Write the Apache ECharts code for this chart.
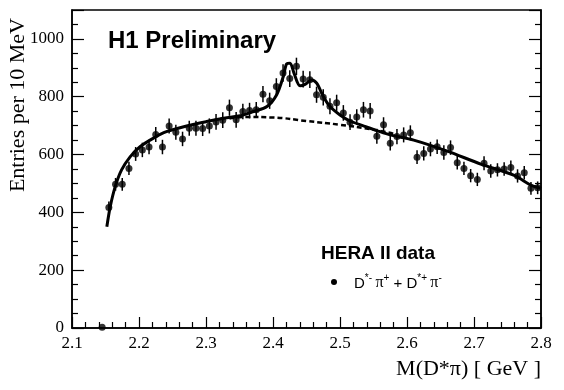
<!DOCTYPE html>
<html><head><meta charset="utf-8">
<script src="https://cdn.jsdelivr.net/npm/echarts@6/dist/echarts.min.js"></script>
<style>html,body{margin:0;padding:0;background:#fff}#c{width:564px;height:390px}</style>
</head><body><div id="c"></div>
<script>
// Bin centres (GeV), entries per 10 MeV, error bars
const massBins = [2.145,2.155,2.165,2.175,2.185,2.195,2.205,2.215,2.225,2.235,2.245,2.255,2.265,2.275,2.285,2.295,2.305,2.315,2.325,2.335,2.345,2.355,2.365,2.375,2.385,2.395,2.405,2.415,2.425,2.435,2.445,2.455,2.465,2.475,2.485,2.495,2.505,2.515,2.525,2.535,2.545,2.555,2.565,2.575,2.585,2.595,2.605,2.615,2.625,2.635,2.645,2.655,2.665,2.675,2.685,2.695,2.705,2.715,2.725,2.735,2.745,2.755,2.765,2.775,2.785,2.795];
const entries = [3,417,497,497,552,602,616,626,669,626,699,677,654,691,691,690,699,713,719,762,720,749,752,755,809,786,835,882,863,905,861,859,807,798,767,779,744,712,730,755,751,663,703,639,662,668,675,591,604,619,627,607,624,572,552,527,514,570,543,547,550,555,526,537,483,485];
const errors = [0,21,22,22,23,24,25,25,26,25,26,26,25,26,26,26,26,27,27,28,27,27,27,27,28,28,29,30,29,30,29,29,28,28,28,28,27,27,27,27,27,26,26,25,26,26,26,24,25,25,25,25,25,24,23,23,23,24,23,23,23,24,23,23,22,22];
// Fit curve (signal + background)
const fitX = [2.152,2.157,2.1645,2.174,2.187,2.2015,2.221,2.241,2.271,2.301,2.331,2.351,2.371,2.391,2.4055,2.4154,2.4204,2.4254,2.4313,2.4403,2.4478,2.4577,2.4652,2.4751,2.4851,2.500,2.515,2.535,2.555,2.575,2.61,2.66,2.71,2.76,2.785,2.8];
const fitY = [350,419,489,547,593,627,656,679,699,714,727,734,749,766,807,870,914,916,882,838,843,858,847,801,766,737,716,699,683,668,650,612,567,528,494,483];
// Background-only curve (dashed)
const bgX = [2.335,2.36,2.40,2.45,2.50,2.55,2.58];
const bgY = [725,730,728,716,703,686,672];
const yTickValues = [0,200,400,600,800,1000];

const chart = echarts.init(document.getElementById('c'));
const serif = '"Liberation Serif", "Times New Roman", serif';
const sans = '"Liberation Sans", Arial, sans-serif';
const pts = massBins.map((m,i)=>[m,entries[i],errors[i]]);
const fit = fitX.map((x,i)=>[x,fitY[i]]);
const bg = bgX.map((x,i)=>[x,bgY[i]]);

chart.setOption({
  animation:false,
  backgroundColor:'#fff',
  textStyle:{fontFamily:serif},
  grid:{left:72,right:23,top:10,bottom:62,show:true,borderColor:'#000',borderWidth:1.5},
  xAxis:[{type:'value',min:2.1,max:2.8,interval:0.1,
    axisLine:{show:true,onZero:false,lineStyle:{color:'#000',width:1.5}},
    axisTick:{show:true,inside:true,length:11,lineStyle:{color:'#000',width:1.2}},
    minorTick:{show:true,splitNumber:5,length:6,lineStyle:{color:'#000',width:1.2}},
    splitLine:{show:false},
    axisLabel:{color:'#000',fontFamily:serif,fontSize:17,margin:7,formatter:v=>v.toFixed(1)}
  }],
  yAxis:[{type:'value',min:0,max:1100,interval:200,
    axisLine:{show:true,lineStyle:{color:'#000',width:1.5}},
    axisTick:{show:true,inside:true,length:12,lineStyle:{color:'#000',width:1.2}},
    minorTick:{show:true,splitNumber:4,length:6,lineStyle:{color:'#000',width:1.2}},
    splitLine:{show:false},
    axisLabel:{color:'#000',fontFamily:serif,fontSize:17,margin:8,showMaxLabel:false,
      formatter:v=>yTickValues.indexOf(v)>=0?String(v):''}
  },{type:'value',min:0,max:1100,interval:200,position:'right',
    axisLine:{show:true,lineStyle:{color:'#000',width:1.5}},
    axisTick:{show:true,inside:true,length:12,lineStyle:{color:'#000',width:1.2}},
    minorTick:{show:true,splitNumber:4,length:6,lineStyle:{color:'#000',width:1.2}},
    splitLine:{show:false},axisLabel:{show:false}
  }],
  series:[
    {type:'line',data:bg,showSymbol:false,smooth:true,lineStyle:{color:'#000',width:2.5,type:[5,3]},z:2},
    {type:'line',data:fit,showSymbol:false,smooth:0.3,lineStyle:{color:'#000',width:3},z:3},
    {type:'custom',data:pts,z:4,renderItem:(params,api)=>{
      const x=api.value(0),y=api.value(1),e=api.value(2);
      if(!e) return null;
      const a=api.coord([x,y+e]),b=api.coord([x,y-e]);
      return {type:'line',shape:{x1:a[0],y1:a[1],x2:b[0],y2:b[1]},style:{stroke:'#000',lineWidth:1.5}};
    }},
    {type:'scatter',data:pts.map(p=>[p[0],p[1]]),symbol:'circle',symbolSize:7,itemStyle:{color:'#000'},z:5}
  ],
  graphic:[
    {type:'text',left:108,top:29,style:{text:'H1 Preliminary',font:'bold 24px "Liberation Sans"',fill:'#000'}},
    {type:'text',left:321,top:244,style:{text:'HERA II data',font:'bold 19px "Liberation Sans"',fill:'#000'}},
    {type:'circle',shape:{cx:334,cy:282,r:3},style:{fill:'#000'}},
    {type:'text',left:354,top:273,style:{
      rich:{
        n:{fontFamily:sans,fontSize:15,fill:'#000',verticalAlign:'bottom',lineHeight:18},
        p:{fontFamily:serif,fontSize:16,fill:'#000',verticalAlign:'bottom',lineHeight:18},
        s:{fontFamily:sans,fontSize:10,fill:'#000',verticalAlign:'top',lineHeight:18}
      },
      text:'{n|D}{s|*-} {p|π}{s|+}{n| + D}{s|*+} {p|π}{s|-}'}},
    {type:'text',right:23,top:358,style:{text:'M(D*π) [ GeV ]',font:'22px "Liberation Serif"',fill:'#000',align:'right'}},
    {type:'text',left:7,top:18,rotation:Math.PI/2,style:{text:'Entries per 10 MeV',font:'22px "Liberation Serif"',fill:'#000'}}
  ]
});
</script></body></html>
